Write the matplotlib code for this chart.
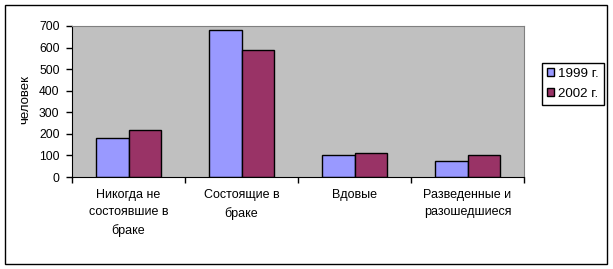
import matplotlib

matplotlib.use("Agg")
import matplotlib.pyplot as plt
import numpy as np
from matplotlib.patches import Rectangle

categories = ["Никогда не\nсостоявшие в\nбраке", "Состоящие в\nбраке", "Вдовые",
              "Разведенные и\nразошедшиеся"]
series_names = ["1999 г.", "2002 г."]
values_1999 = [179, 680, 100, 73]
values_2002 = [216, 587, 110, 100]
y_ticks = [0, 100, 200, 300, 400, 500, 600, 700]

COLORS = ["#9999FF", "#993366"]

plt.rcParams["font.family"] = ["Liberation Sans", "DejaVu Sans"]

W, H = 613, 269
fig = plt.figure(figsize=(W / 100, H / 100), dpi=100)
ax = fig.add_axes([72 / W, 1 - 177 / H, (524 - 72) / W, (177 - 26) / H])
ax.set_facecolor("#C0C0C0")

x = np.arange(len(categories))
bw = 1 / 1.75 / 2
ax.bar(x - bw / 2, values_1999, bw, color=COLORS[0], edgecolor="black", lw=1,
       label=series_names[0], zorder=2)
ax.bar(x + bw / 2, values_2002, bw, color=COLORS[1], edgecolor="black", lw=1,
       label=series_names[1], zorder=2)

ax.set_xlim(-0.5, len(categories) - 0.5)
ax.set_ylim(0, 700)
ax.set_yticks(y_ticks)
ax.tick_params(axis="y", labelsize=8.7, length=4, width=1, direction="out", pad=5)

ax.set_xticks(np.arange(len(categories) + 1) - 0.5)
ax.set_xticklabels([])
ax.tick_params(axis="x", length=4, width=1, direction="out")
for xi, lab in zip(x, categories):
    ax.text(xi, -12 / 151, lab, transform=ax.get_xaxis_transform(), ha="center", va="top",
            fontsize=9, linespacing=1.6)

for s in ("top", "right"):
    ax.spines[s].set_color("#808080")
for s in ("left", "bottom"):
    ax.spines[s].set_color("black")

fig.text(25 / W, 1 - 100 / H, "человек", rotation=90, ha="center", va="center", fontsize=9.5)

leg = fig.legend(loc="center", bbox_to_anchor=(573 / W, 1 - 84 / H), fontsize=9.6,
                 frameon=True, fancybox=False, edgecolor="black", framealpha=1,
                 handlelength=0.5, handleheight=0.5, handletextpad=0.35,
                 borderpad=0.4, labelspacing=0.6, borderaxespad=0)
leg.get_frame().set_linewidth(1)

fig.patches.append(Rectangle((5 / W, 1 - 264 / H), 601.5 / W, 259 / H, transform=fig.transFigure,
                             fill=False, edgecolor="black", lw=1))

fig.savefig("out.png", dpi=100)
